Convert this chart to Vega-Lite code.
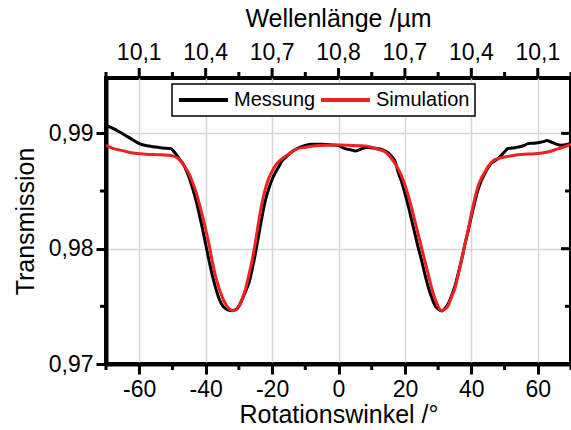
{
  "$schema": "https://vega.github.io/schema/vega-lite/v6.json",
  "width": 465,
  "height": 286,
  "autosize": "none",
  "padding": {"left": 106, "top": 78, "right": 0, "bottom": 66},
  "background": "white",
  "config": {"view": {"stroke": "black", "strokeWidth": 4}, "font": "Liberation Sans"},
  "datasets": {
    "xmin": [{"v": -70}, {"v": -50}, {"v": -30}, {"v": -10}, {"v": 10}, {"v": 30}, {"v": 50}, {"v": 70}],
    "xmaj": [{"v": -60}, {"v": -40}, {"v": -20}, {"v": 0}, {"v": 20}, {"v": 40}, {"v": 60}],
    "ymin": [{"v": 0.975}, {"v": 0.985}],
    "ymaj": [{"v": 0.98}, {"v": 0.99}],
    "toplab": [
      {"v": -60, "t": "10,1"}, {"v": -40, "t": "10,4"}, {"v": -20, "t": "10,7"}, {"v": 0, "t": "10,8"},
      {"v": 20, "t": "10,7"}, {"v": 40, "t": "10,4"}, {"v": 60, "t": "10,1"}
    ],
    "toptitle": [{"v": 0, "t": "Wellenlänge /µm"}]
  },
  "data": {
    "values": [
      {"s": "Messung", "x": -70, "y": 0.99069},
      {"s": "Messung", "x": -67, "y": 0.9903},
      {"s": "Messung", "x": -65, "y": 0.98997},
      {"s": "Messung", "x": -62, "y": 0.98945},
      {"s": "Messung", "x": -60, "y": 0.98911},
      {"s": "Messung", "x": -57, "y": 0.9889},
      {"s": "Messung", "x": -55, "y": 0.98881},
      {"s": "Messung", "x": -52, "y": 0.9887},
      {"s": "Messung", "x": -50.5, "y": 0.98868},
      {"s": "Messung", "x": -49.5, "y": 0.9884},
      {"s": "Messung", "x": -48, "y": 0.9878},
      {"s": "Messung", "x": -47, "y": 0.98745},
      {"s": "Messung", "x": -46, "y": 0.9869},
      {"s": "Messung", "x": -45, "y": 0.9862},
      {"s": "Messung", "x": -44, "y": 0.9853},
      {"s": "Messung", "x": -43, "y": 0.9843},
      {"s": "Messung", "x": -42, "y": 0.9831},
      {"s": "Messung", "x": -41, "y": 0.9818},
      {"s": "Messung", "x": -40, "y": 0.9804},
      {"s": "Messung", "x": -39, "y": 0.979},
      {"s": "Messung", "x": -38, "y": 0.9777},
      {"s": "Messung", "x": -37, "y": 0.9766},
      {"s": "Messung", "x": -36, "y": 0.9757},
      {"s": "Messung", "x": -35, "y": 0.9751},
      {"s": "Messung", "x": -34, "y": 0.9748},
      {"s": "Messung", "x": -33, "y": 0.97465},
      {"s": "Messung", "x": -32, "y": 0.97462},
      {"s": "Messung", "x": -31, "y": 0.9747},
      {"s": "Messung", "x": -30, "y": 0.975},
      {"s": "Messung", "x": -29, "y": 0.9756},
      {"s": "Messung", "x": -28, "y": 0.9763},
      {"s": "Messung", "x": -27, "y": 0.977},
      {"s": "Messung", "x": -26, "y": 0.9782},
      {"s": "Messung", "x": -25, "y": 0.9796},
      {"s": "Messung", "x": -24, "y": 0.9812},
      {"s": "Messung", "x": -23, "y": 0.9828},
      {"s": "Messung", "x": -22, "y": 0.9842},
      {"s": "Messung", "x": -21, "y": 0.9852},
      {"s": "Messung", "x": -20, "y": 0.986},
      {"s": "Messung", "x": -19, "y": 0.9866},
      {"s": "Messung", "x": -18, "y": 0.9871},
      {"s": "Messung", "x": -17, "y": 0.9876},
      {"s": "Messung", "x": -16, "y": 0.9879},
      {"s": "Messung", "x": -14, "y": 0.9884},
      {"s": "Messung", "x": -12, "y": 0.98875},
      {"s": "Messung", "x": -10, "y": 0.98895},
      {"s": "Messung", "x": -8, "y": 0.98905},
      {"s": "Messung", "x": -5, "y": 0.98905},
      {"s": "Messung", "x": -2, "y": 0.989},
      {"s": "Messung", "x": 0, "y": 0.98895},
      {"s": "Messung", "x": 1, "y": 0.9888},
      {"s": "Messung", "x": 2, "y": 0.98868},
      {"s": "Messung", "x": 4, "y": 0.98855},
      {"s": "Messung", "x": 5, "y": 0.98847},
      {"s": "Messung", "x": 6, "y": 0.98855},
      {"s": "Messung", "x": 7, "y": 0.98868},
      {"s": "Messung", "x": 9, "y": 0.98878},
      {"s": "Messung", "x": 11, "y": 0.9887},
      {"s": "Messung", "x": 13, "y": 0.9886},
      {"s": "Messung", "x": 15, "y": 0.9883},
      {"s": "Messung", "x": 16, "y": 0.988},
      {"s": "Messung", "x": 17, "y": 0.9876},
      {"s": "Messung", "x": 18, "y": 0.9866},
      {"s": "Messung", "x": 19, "y": 0.9858},
      {"s": "Messung", "x": 20, "y": 0.9848},
      {"s": "Messung", "x": 21, "y": 0.9837},
      {"s": "Messung", "x": 22, "y": 0.9825},
      {"s": "Messung", "x": 23, "y": 0.9813},
      {"s": "Messung", "x": 24, "y": 0.9801},
      {"s": "Messung", "x": 25, "y": 0.979},
      {"s": "Messung", "x": 26, "y": 0.9778},
      {"s": "Messung", "x": 27, "y": 0.9767},
      {"s": "Messung", "x": 28, "y": 0.9758},
      {"s": "Messung", "x": 29, "y": 0.9751},
      {"s": "Messung", "x": 30, "y": 0.97475},
      {"s": "Messung", "x": 31, "y": 0.9746},
      {"s": "Messung", "x": 32, "y": 0.9748},
      {"s": "Messung", "x": 33, "y": 0.9752},
      {"s": "Messung", "x": 34, "y": 0.9759},
      {"s": "Messung", "x": 35, "y": 0.9767},
      {"s": "Messung", "x": 36, "y": 0.9778},
      {"s": "Messung", "x": 37, "y": 0.979},
      {"s": "Messung", "x": 38, "y": 0.9803},
      {"s": "Messung", "x": 39, "y": 0.9815},
      {"s": "Messung", "x": 40, "y": 0.9828},
      {"s": "Messung", "x": 41, "y": 0.984},
      {"s": "Messung", "x": 42, "y": 0.9851},
      {"s": "Messung", "x": 43, "y": 0.9859},
      {"s": "Messung", "x": 44, "y": 0.9865},
      {"s": "Messung", "x": 45, "y": 0.987},
      {"s": "Messung", "x": 46, "y": 0.9874},
      {"s": "Messung", "x": 47, "y": 0.9876},
      {"s": "Messung", "x": 48, "y": 0.9878},
      {"s": "Messung", "x": 49, "y": 0.9881},
      {"s": "Messung", "x": 50, "y": 0.9884},
      {"s": "Messung", "x": 51, "y": 0.98868},
      {"s": "Messung", "x": 53, "y": 0.98875},
      {"s": "Messung", "x": 54, "y": 0.98881},
      {"s": "Messung", "x": 56, "y": 0.98895},
      {"s": "Messung", "x": 57, "y": 0.98911},
      {"s": "Messung", "x": 59, "y": 0.98915},
      {"s": "Messung", "x": 60, "y": 0.98919},
      {"s": "Messung", "x": 62, "y": 0.9893},
      {"s": "Messung", "x": 62.7, "y": 0.98939},
      {"s": "Messung", "x": 64, "y": 0.98925},
      {"s": "Messung", "x": 65.2, "y": 0.98911},
      {"s": "Messung", "x": 67, "y": 0.98896},
      {"s": "Messung", "x": 69, "y": 0.98905},
      {"s": "Messung", "x": 70, "y": 0.98915},
      {"s": "Simulation", "x": -70, "y": 0.98896},
      {"s": "Simulation", "x": -68, "y": 0.9887},
      {"s": "Simulation", "x": -65, "y": 0.9885},
      {"s": "Simulation", "x": -62, "y": 0.9883},
      {"s": "Simulation", "x": -60, "y": 0.98824},
      {"s": "Simulation", "x": -57, "y": 0.98817},
      {"s": "Simulation", "x": -54, "y": 0.98815},
      {"s": "Simulation", "x": -51, "y": 0.9881},
      {"s": "Simulation", "x": -50, "y": 0.98805},
      {"s": "Simulation", "x": -49, "y": 0.98795},
      {"s": "Simulation", "x": -48, "y": 0.98775},
      {"s": "Simulation", "x": -47, "y": 0.9874},
      {"s": "Simulation", "x": -46, "y": 0.987},
      {"s": "Simulation", "x": -45, "y": 0.9865},
      {"s": "Simulation", "x": -44, "y": 0.9858},
      {"s": "Simulation", "x": -43, "y": 0.985},
      {"s": "Simulation", "x": -42, "y": 0.984},
      {"s": "Simulation", "x": -41, "y": 0.9829},
      {"s": "Simulation", "x": -40, "y": 0.9817},
      {"s": "Simulation", "x": -39, "y": 0.9804},
      {"s": "Simulation", "x": -38, "y": 0.9789},
      {"s": "Simulation", "x": -37, "y": 0.9776},
      {"s": "Simulation", "x": -36, "y": 0.9766},
      {"s": "Simulation", "x": -35, "y": 0.9758},
      {"s": "Simulation", "x": -34, "y": 0.9752},
      {"s": "Simulation", "x": -33, "y": 0.9748},
      {"s": "Simulation", "x": -32, "y": 0.97465},
      {"s": "Simulation", "x": -31, "y": 0.9747},
      {"s": "Simulation", "x": -30, "y": 0.975},
      {"s": "Simulation", "x": -29, "y": 0.97565},
      {"s": "Simulation", "x": -28, "y": 0.9765},
      {"s": "Simulation", "x": -27, "y": 0.9777},
      {"s": "Simulation", "x": -26, "y": 0.979},
      {"s": "Simulation", "x": -25, "y": 0.9806},
      {"s": "Simulation", "x": -24, "y": 0.9824},
      {"s": "Simulation", "x": -23, "y": 0.984},
      {"s": "Simulation", "x": -22, "y": 0.9852},
      {"s": "Simulation", "x": -21, "y": 0.9861},
      {"s": "Simulation", "x": -20, "y": 0.9867},
      {"s": "Simulation", "x": -19, "y": 0.9872},
      {"s": "Simulation", "x": -18, "y": 0.98755},
      {"s": "Simulation", "x": -17, "y": 0.9878},
      {"s": "Simulation", "x": -15, "y": 0.9882},
      {"s": "Simulation", "x": -13, "y": 0.9886},
      {"s": "Simulation", "x": -10, "y": 0.9888},
      {"s": "Simulation", "x": -6, "y": 0.98895},
      {"s": "Simulation", "x": 0, "y": 0.98899},
      {"s": "Simulation", "x": 6, "y": 0.98893},
      {"s": "Simulation", "x": 9, "y": 0.98887},
      {"s": "Simulation", "x": 12, "y": 0.9886},
      {"s": "Simulation", "x": 14, "y": 0.9884},
      {"s": "Simulation", "x": 15, "y": 0.98815},
      {"s": "Simulation", "x": 16, "y": 0.9878},
      {"s": "Simulation", "x": 17, "y": 0.9874},
      {"s": "Simulation", "x": 18, "y": 0.9869},
      {"s": "Simulation", "x": 19, "y": 0.9863},
      {"s": "Simulation", "x": 20, "y": 0.98555},
      {"s": "Simulation", "x": 21, "y": 0.9846},
      {"s": "Simulation", "x": 22, "y": 0.98355},
      {"s": "Simulation", "x": 23, "y": 0.9824},
      {"s": "Simulation", "x": 24, "y": 0.98125},
      {"s": "Simulation", "x": 25, "y": 0.9801},
      {"s": "Simulation", "x": 26, "y": 0.97895},
      {"s": "Simulation", "x": 27, "y": 0.9778},
      {"s": "Simulation", "x": 28, "y": 0.97665},
      {"s": "Simulation", "x": 29, "y": 0.9757},
      {"s": "Simulation", "x": 30, "y": 0.975},
      {"s": "Simulation", "x": 31, "y": 0.97462},
      {"s": "Simulation", "x": 32, "y": 0.97475},
      {"s": "Simulation", "x": 33, "y": 0.97505},
      {"s": "Simulation", "x": 34, "y": 0.9758},
      {"s": "Simulation", "x": 35, "y": 0.9765},
      {"s": "Simulation", "x": 36, "y": 0.9777},
      {"s": "Simulation", "x": 37, "y": 0.9789},
      {"s": "Simulation", "x": 38, "y": 0.9803},
      {"s": "Simulation", "x": 39, "y": 0.9816},
      {"s": "Simulation", "x": 40, "y": 0.983},
      {"s": "Simulation", "x": 41, "y": 0.9843},
      {"s": "Simulation", "x": 42, "y": 0.9854},
      {"s": "Simulation", "x": 43, "y": 0.9861},
      {"s": "Simulation", "x": 44, "y": 0.9866},
      {"s": "Simulation", "x": 45, "y": 0.9871},
      {"s": "Simulation", "x": 46, "y": 0.98745},
      {"s": "Simulation", "x": 47, "y": 0.9877},
      {"s": "Simulation", "x": 48, "y": 0.9878},
      {"s": "Simulation", "x": 50, "y": 0.98795},
      {"s": "Simulation", "x": 52, "y": 0.98805},
      {"s": "Simulation", "x": 54, "y": 0.98815},
      {"s": "Simulation", "x": 57, "y": 0.9882},
      {"s": "Simulation", "x": 60, "y": 0.98825},
      {"s": "Simulation", "x": 63, "y": 0.98838},
      {"s": "Simulation", "x": 66, "y": 0.98865},
      {"s": "Simulation", "x": 70, "y": 0.98905}
    ]
  },
  "layer": [
    {
      "transform": [{"filter": "datum.s == 'Messung'"}],
      "mark": {"type": "line", "strokeWidth": 3, "clip": true, "interpolate": "monotone"},
      "encoding": {
        "x": {
          "field": "x", "type": "quantitative",
          "scale": {"domain": [-70, 70], "nice": false, "zero": false},
          "axis": {
            "orient": "bottom",
            "values": [-60, -40, -20, 0, 20, 40, 60],
            "labelExpr": "'' + datum.value",
            "tickSize": 10,
            "tickColor": "black",
            "tickWidth": 3,
            "domainColor": "black",
            "domainWidth": 4,
            "labelColor": "black",
            "labelFont": "Liberation Sans",
            "labelFontSize": 23,
            "labelFlush": false,
            "labelOverlap": false,
            "labelPadding": 4,
            "title": "Rotationswinkel /°",
            "titleColor": "black",
            "titleFont": "Liberation Sans",
            "titleFontSize": 25,
            "titleFontWeight": "normal",
            "titlePadding": 1,
            "grid": true,
            "gridColor": "#d6d6d6",
            "gridWidth": 1.5
          }
        },
        "y": {
          "field": "y", "type": "quantitative",
          "scale": {"domain": [0.97, 0.9948], "nice": false, "zero": false},
          "axis": {
            "orient": "left",
            "values": [0.97, 0.98, 0.99],
            "labelExpr": "replace(format(datum.value, '.2f'), '.', ',')",
            "tickSize": 10,
            "tickColor": "black",
            "tickWidth": 3,
            "domainColor": "black",
            "domainWidth": 4,
            "labelColor": "black",
            "labelFont": "Liberation Sans",
            "labelFontSize": 23,
            "labelFlush": false,
            "labelOverlap": false,
            "labelPadding": 3,
            "title": "Transmission",
            "titleColor": "black",
            "titleFont": "Liberation Sans",
            "titleFontSize": 25,
            "titleFontWeight": "normal",
            "titlePadding": 10,
            "grid": true,
            "gridColor": "#d6d6d6",
            "gridWidth": 1.5
          }
        },
        "color": {
          "field": "s", "type": "nominal",
          "scale": {"domain": ["Messung", "Simulation"], "range": ["#000000", "#ee2222"]},
          "legend": {
            "orient": "none",
            "legendX": 66,
            "legendY": 6,
            "direction": "horizontal",
            "title": null,
            "symbolType": "stroke",
            "symbolSize": 2400,
            "symbolStrokeWidth": 4,
            "clipHeight": 22,
            "labelFontSize": 20,
            "labelFont": "Liberation Sans",
            "labelColor": "black",
            "labelOffset": 4,
            "columnPadding": 3,
            "strokeColor": "black",
            "padding": 5,
            "fillColor": "white",
            "encode": {"legend": {"update": {"strokeWidth": {"value": 1.5}}}}
          }
        }
      }
    },
    {
      "transform": [{"filter": "datum.s == 'Simulation'"}],
      "mark": {"type": "line", "strokeWidth": 3, "clip": true, "interpolate": "monotone"},
      "encoding": {
        "x": {"field": "x", "type": "quantitative"},
        "y": {"field": "y", "type": "quantitative"},
        "color": {"field": "s", "type": "nominal"}
      }
    },
    {
      "data": {"name": "xmin"},
      "mark": {"type": "rule", "color": "black", "strokeWidth": 3},
      "encoding": {
        "x": {"field": "v", "type": "quantitative"},
        "y": {"datum": 0.97},
        "y2": {"datum": 0.96948}
      }
    },
    {
      "data": {"name": "xmin"},
      "mark": {"type": "rule", "color": "black", "strokeWidth": 3},
      "encoding": {
        "x": {"field": "v", "type": "quantitative"},
        "y": {"datum": 0.9948},
        "y2": {"datum": 0.99532}
      }
    },
    {
      "data": {"name": "xmaj"},
      "mark": {"type": "rule", "color": "black", "strokeWidth": 3},
      "encoding": {
        "x": {"field": "v", "type": "quantitative"},
        "y": {"datum": 0.9948},
        "y2": {"datum": 0.99567}
      }
    },
    {
      "data": {"name": "ymin"},
      "mark": {"type": "rule", "color": "black", "strokeWidth": 3},
      "encoding": {
        "y": {"field": "v", "type": "quantitative"},
        "x": {"datum": -70},
        "x2": {"datum": -71.8}
      }
    },
    {
      "data": {"name": "ymin"},
      "mark": {"type": "rule", "color": "black", "strokeWidth": 3},
      "encoding": {
        "y": {"field": "v", "type": "quantitative"},
        "x": {"datum": 70},
        "x2": {"datum": 68.2}
      }
    },
    {
      "data": {"name": "ymaj"},
      "mark": {"type": "rule", "color": "black", "strokeWidth": 3},
      "encoding": {
        "y": {"field": "v", "type": "quantitative"},
        "x": {"datum": 70},
        "x2": {"datum": 67}
      }
    },
    {
      "data": {"name": "toplab"},
      "mark": {"type": "text", "font": "Liberation Sans", "fontSize": 23, "color": "black", "baseline": "alphabetic", "align": "center"},
      "encoding": {
        "x": {"field": "v", "type": "quantitative"},
        "y": {"datum": 0.99638},
        "text": {"field": "t", "type": "nominal"}
      }
    },
    {
      "data": {"name": "toptitle"},
      "mark": {"type": "text", "font": "Liberation Sans", "fontSize": 25, "color": "black", "baseline": "alphabetic", "align": "center"},
      "encoding": {
        "x": {"field": "v", "type": "quantitative"},
        "y": {"datum": 0.99922},
        "text": {"field": "t", "type": "nominal"}
      }
    }
  ]
}
